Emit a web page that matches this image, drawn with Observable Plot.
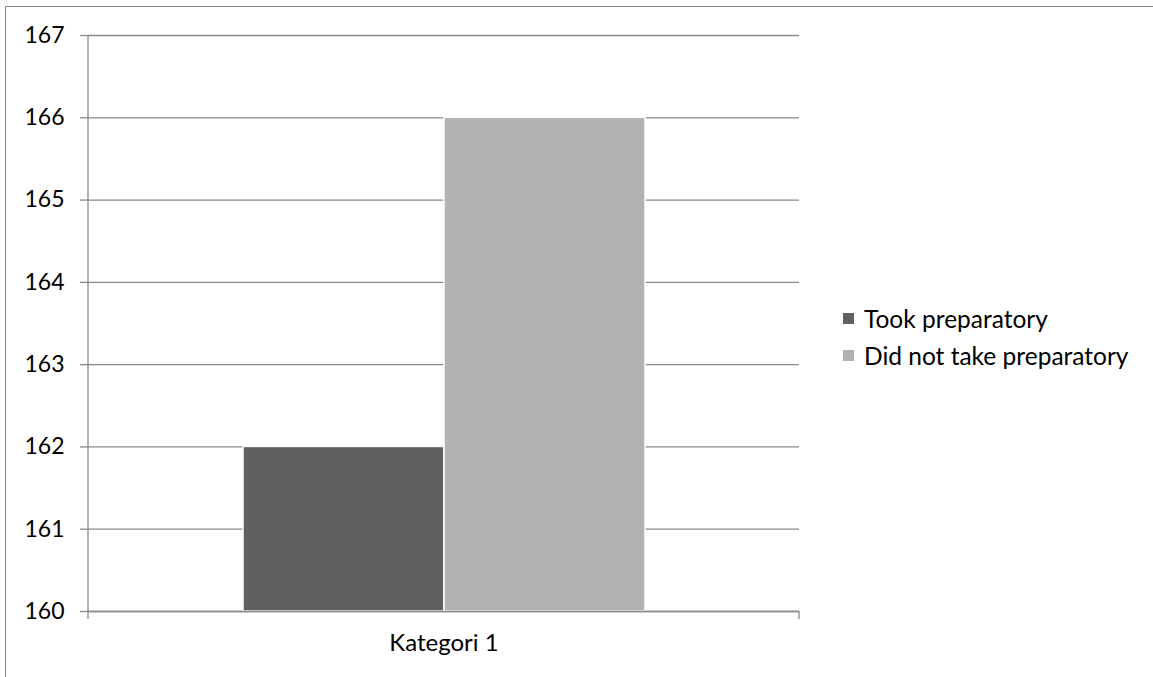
<!DOCTYPE html>
<html>
<head>
<meta charset="utf-8">
<script src="https://cdn.jsdelivr.net/npm/d3@7"></script>
<script src="https://cdn.jsdelivr.net/npm/@observablehq/plot@0.6"></script>
<style>
  html, body { margin: 0; padding: 0; background: #fff; }
  body { width: 1153px; height: 677px; overflow: hidden; position: relative; font-family: Lato, "Open Sans", sans-serif; }
  #border { position: absolute; left: 5px; top: 6px; width: 1300px; height: 800px; border-left: 1px solid #8a8a8a; border-top: 1px solid #8a8a8a; }
  #chart { position: absolute; left: 0; top: 0; }
  #legend { position: absolute; left: 843px; top: 300px; font-size: 24.5px; color: #000; }
  #legend .row { display: flex; align-items: center; height: 37px; }
  #legend .sw { width: 11px; height: 11px; margin-right: 10px; }
</style>
</head>
<body>
<div id="border"></div>
<div id="chart"></div>
<div id="legend"></div>
<script>
const categories = ["Kategori 1"];
const series = ["Took preparatory", "Did not take preparatory"];
const values = [162, 166];
const colors = ["#606060", "#b2b2b2"];
const yTicks = [160, 161, 162, 163, 164, 165, 166, 167];

const data = series.map((s, i) => ({category: categories[0], series: s, value: values[i]}));

const frameLines = (index, scales, values, dimensions) => {
  const {width, height, marginLeft, marginRight, marginTop, marginBottom} = dimensions;
  const g = d3.create("svg:g").attr("stroke", "#8a8a8a").attr("stroke-width", 1.3);
  g.append("line").attr("x1", marginLeft).attr("x2", marginLeft).attr("y1", marginTop).attr("y2", height - marginBottom + 8);
  g.append("line").attr("x1", width - marginRight).attr("x2", width - marginRight).attr("y1", height - marginBottom).attr("y2", height - marginBottom + 8);
  return g.node();
};

const chart = Plot.plot({
  width: 1153,
  height: 677,
  marginLeft: 88,
  marginRight: 354,
  marginTop: 35,
  marginBottom: 66,
  style: {fontFamily: "Lato, 'Open Sans', sans-serif", fontSize: "23px", background: "transparent", overflow: "visible"},
  x: {domain: series, paddingInner: 0, paddingOuter: 0.76, axis: null},
  y: {domain: [yTicks[0], yTicks[yTicks.length - 1]], axis: null},
  color: {domain: series, range: colors},
  marks: [
    Plot.gridY(yTicks, {stroke: "#8a8a8a", strokeOpacity: 1, strokeWidth: 1.3}),
    Plot.axisY(yTicks, {tickSize: 8, tickPadding: 16, stroke: "#8a8a8a", strokeWidth: 1.3, fill: "#000", fontSize: 23, label: null, tickFormat: d => String(d)}),
    Plot.barY(data, {x: "series", y1: () => yTicks[0], y2: "value", fill: "series", stroke: "white", strokeWidth: 1.5,
      style: "filter: drop-shadow(-2px 1px 2px rgba(0,0,0,0.12))"}),
    Plot.ruleY([yTicks[0]], {stroke: "#8a8a8a", strokeWidth: 1.3}),
    frameLines,
    Plot.text(categories, {text: d => d, frameAnchor: "bottom", dy: 39, fill: "#000", fontSize: 24})
  ]
});
document.getElementById("chart").appendChild(chart);

const legend = document.getElementById("legend");
series.forEach((s, i) => {
  const row = document.createElement("div");
  row.className = "row";
  const sw = document.createElement("span");
  sw.className = "sw";
  sw.style.background = colors[i];
  const t = document.createElement("span");
  t.textContent = s;
  row.appendChild(sw);
  row.appendChild(t);
  legend.appendChild(row);
});
</script>
</body>
</html>
